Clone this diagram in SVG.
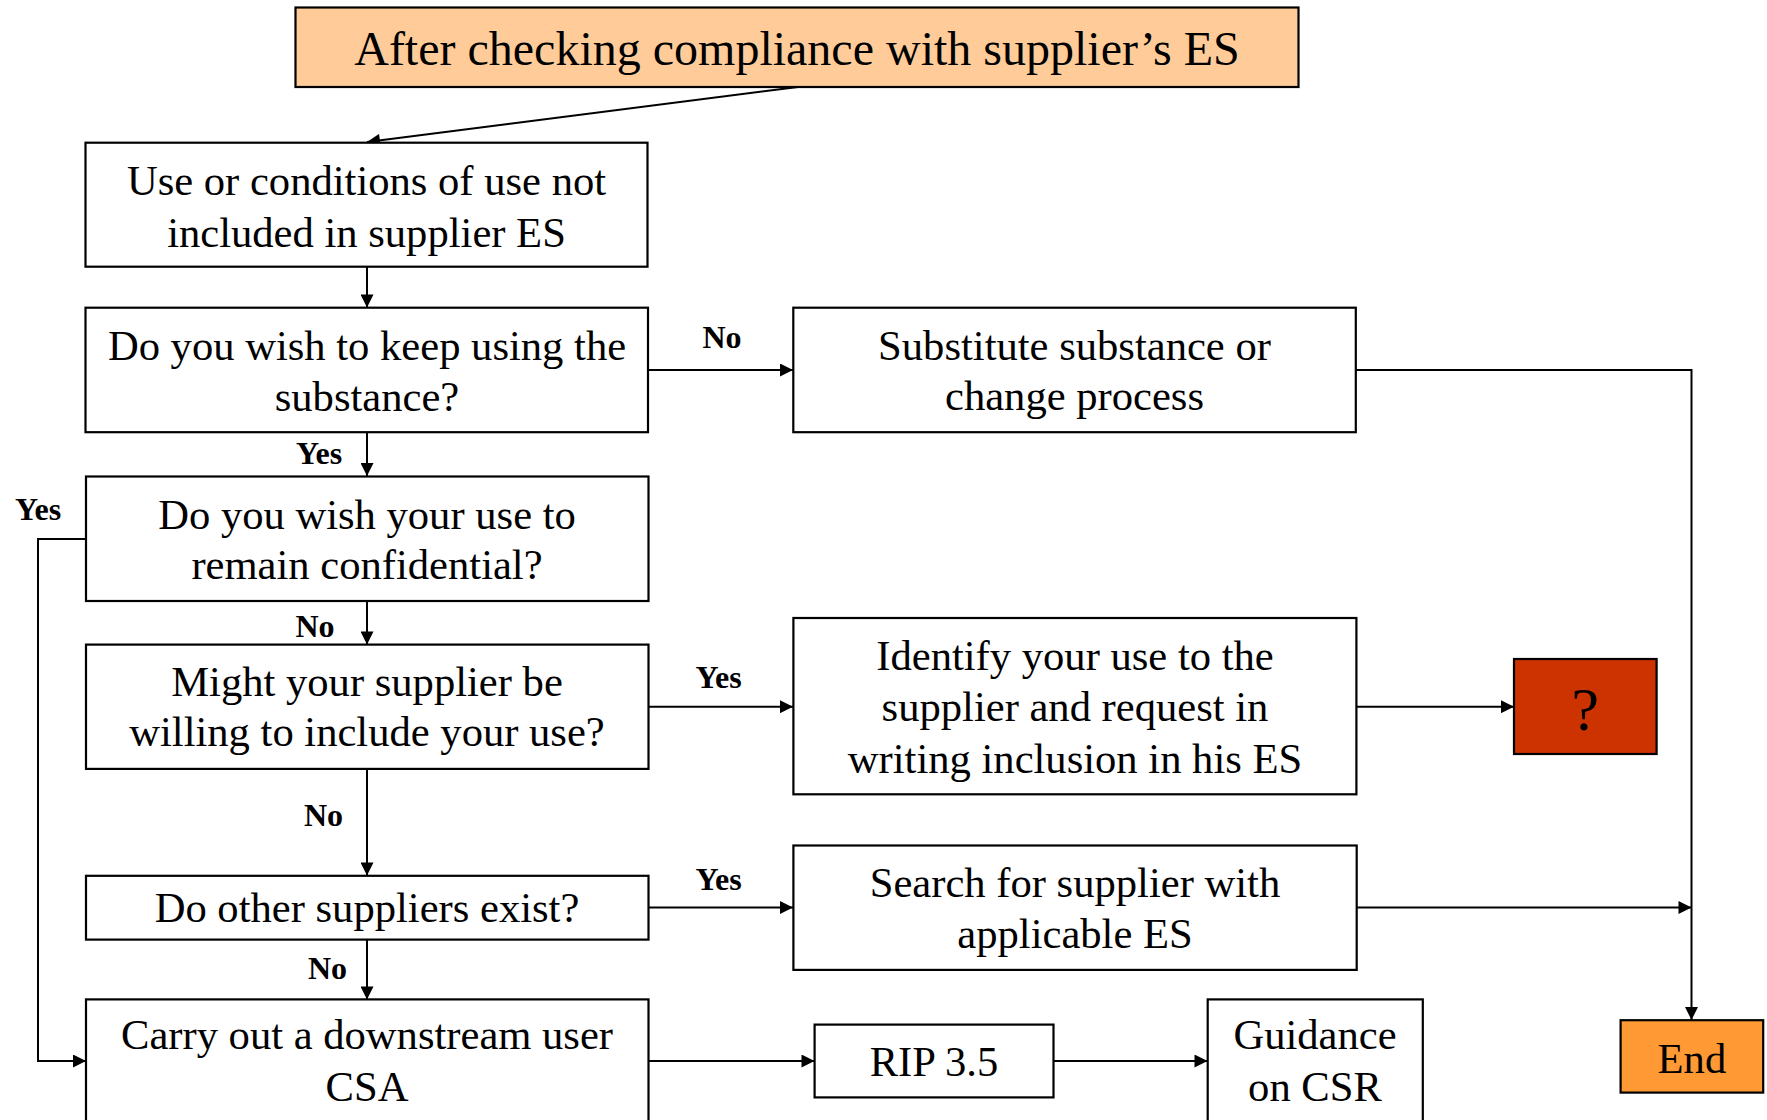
<svg xmlns="http://www.w3.org/2000/svg" width="1767" height="1120" viewBox="0 0 1767 1120">
<style>
.box{fill:#fff;stroke:#000;stroke-width:2.2}
.t{font-family:"Liberation Serif","Times New Roman",serif;font-size:42.6px;fill:#000;text-anchor:middle}
.lbl{font-family:"Liberation Serif","Times New Roman",serif;font-size:32px;font-weight:bold;fill:#000;text-anchor:middle}
.c{fill:none;stroke:#000;stroke-width:2}
</style>
<defs>
<marker id="ah" viewBox="0 0 10 10" refX="10" refY="5" markerUnits="userSpaceOnUse" markerWidth="15" markerHeight="13" orient="auto">
<path d="M0,0 L10,5 L0,10 z" fill="#000"/>
</marker>
</defs>
<rect width="1767" height="1120" fill="#fff"/>

<g id="connectors">
<line class="c" x1="798" y1="87" x2="367" y2="142" marker-end="url(#ah)"/>
<line class="c" x1="367" y1="267" x2="367" y2="307.5" marker-end="url(#ah)"/>
<line class="c" x1="648" y1="370" x2="793" y2="370" marker-end="url(#ah)"/>
<polyline class="c" points="1356,370 1691.5,370 1691.5,1020" marker-end="url(#ah)"/>
<line class="c" x1="367" y1="432" x2="367" y2="476" marker-end="url(#ah)"/>
<polyline class="c" points="86,539 38,539 38,1061 86,1061" marker-end="url(#ah)"/>
<line class="c" x1="367" y1="601" x2="367" y2="644.5" marker-end="url(#ah)"/>
<line class="c" x1="648" y1="706.7" x2="793" y2="706.7" marker-end="url(#ah)"/>
<line class="c" x1="1356" y1="706.7" x2="1514" y2="706.7" marker-end="url(#ah)"/>
<line class="c" x1="367" y1="769" x2="367" y2="875.5" marker-end="url(#ah)"/>
<line class="c" x1="648" y1="907.5" x2="793" y2="907.5" marker-end="url(#ah)"/>
<line class="c" x1="1356" y1="907.5" x2="1691.5" y2="907.5" marker-end="url(#ah)"/>
<line class="c" x1="367" y1="940" x2="367" y2="999.5" marker-end="url(#ah)"/>
<line class="c" x1="648" y1="1061" x2="814.5" y2="1061" marker-end="url(#ah)"/>
<line class="c" x1="1053.5" y1="1061" x2="1207.5" y2="1061" marker-end="url(#ah)"/>
</g>

<g id="labels">
<text class="lbl" x="722" y="347.5">No</text>
<text class="lbl" x="319" y="463.5">Yes</text>
<text class="lbl" x="38" y="520">Yes</text>
<text class="lbl" x="315" y="637">No</text>
<text class="lbl" x="718.5" y="688">Yes</text>
<text class="lbl" x="323.5" y="826">No</text>
<text class="lbl" x="718.5" y="889.5">Yes</text>
<text class="lbl" x="327.5" y="979">No</text>
</g>

<g id="start">
<rect x="295.5" y="7.5" width="1003" height="79.5" fill="#FFCC99" stroke="#000" stroke-width="2.2"/>
<text class="t" x="797" y="65" style="font-size:48px">After checking compliance with supplier’s ES</text>
</g>
<g id="n-use">
<rect class="box" x="85.5" y="142.7" width="562" height="124"/>
<text class="t" x="366.5" y="195">Use or conditions of use not</text>
<text class="t" x="366.5" y="246.5">included in supplier ES</text>
</g>
<g id="n-keep">
<rect class="box" x="85.5" y="307.7" width="562.5" height="124.5"/>
<text class="t" x="367" y="360">Do you wish to keep using the</text>
<text class="t" x="367" y="410.5">substance?</text>
</g>
<g id="n-substitute">
<rect class="box" x="793.3" y="307.7" width="562.5" height="124.5"/>
<text class="t" x="1074.5" y="359.5">Substitute substance or</text>
<text class="t" x="1074.5" y="410">change process</text>
</g>
<g id="n-confidential">
<rect class="box" x="86" y="476.5" width="562.5" height="124.5"/>
<text class="t" x="367" y="529">Do you wish your use to</text>
<text class="t" x="367" y="579">remain confidential?</text>
</g>
<g id="n-willing">
<rect class="box" x="86" y="644.6" width="562.5" height="124.3"/>
<text class="t" x="367" y="696">Might your supplier be</text>
<text class="t" x="367" y="746">willing to include your use?</text>
</g>
<g id="n-identify">
<rect class="box" x="793.4" y="618" width="563" height="176.3"/>
<text class="t" x="1075" y="670">Identify your use to the</text>
<text class="t" x="1075" y="721">supplier and request in</text>
<text class="t" x="1075" y="772.5">writing inclusion in his ES</text>
</g>
<g id="n-question">
<rect x="1514" y="659" width="142.6" height="95" fill="#CC3300" stroke="#000" stroke-width="2.2"/>
<text class="t" x="1585.3" y="730" style="font-size:62px">?</text>
</g>
<g id="n-other">
<rect class="box" x="86" y="875.8" width="562.5" height="63.8"/>
<text class="t" x="367" y="922.2">Do other suppliers exist?</text>
</g>
<g id="n-search">
<rect class="box" x="793.4" y="845.5" width="563.3" height="124.4"/>
<text class="t" x="1075" y="897">Search for supplier with</text>
<text class="t" x="1075" y="947.5">applicable ES</text>
</g>
<g id="n-csa">
<rect class="box" x="86" y="999.4" width="562.5" height="140"/>
<text class="t" x="367" y="1049.3">Carry out a downstream user</text>
<text class="t" x="367" y="1101">CSA</text>
</g>
<g id="n-rip">
<rect class="box" x="814.6" y="1024.6" width="238.9" height="72.8"/>
<text class="t" x="934" y="1076">RIP 3.5</text>
</g>
<g id="n-guidance">
<rect class="box" x="1207.7" y="999.4" width="215.1" height="140"/>
<text class="t" x="1315" y="1049.3">Guidance</text>
<text class="t" x="1315" y="1101">on CSR</text>
</g>
<g id="n-end">
<rect x="1620.6" y="1020.2" width="142.6" height="72.4" fill="#FF9933" stroke="#000" stroke-width="2.2"/>
<text class="t" x="1691.9" y="1073">End</text>
</g>
</svg>
